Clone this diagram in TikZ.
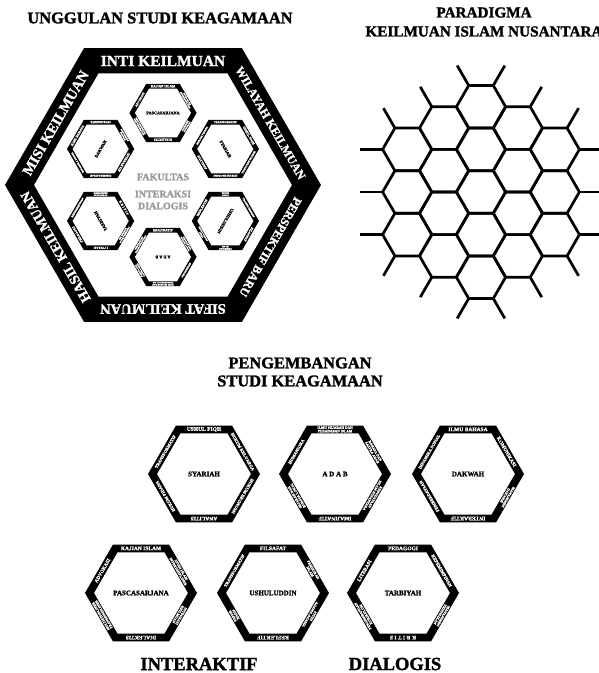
\documentclass[tikz,border=0pt]{standalone}
\usepackage{fontspec}
\setmainfont{Liberation Serif}[BoldFeatures={FakeBold=1.6}]

\tikzset{
  band/.style={fill=black, even odd rule},
  bandtext/.style={text=white, inner sep=0pt, align=center},
  facname/.style={font=\bfseries\fontsize{7}{7}\selectfont, inner sep=0pt},
  rimtext/.style={text=white, inner sep=0pt, font=\bfseries\fontsize{#1}{#1}\selectfont},
  headline/.style={inner sep=0pt, align=center},
  emboss/.style={text=black!40, inner sep=0pt, align=center, font=\bfseries\fontsize{10}{12}\selectfont},
  comb/.style={line width=2.7pt, line join=round},
}

% words on the band of each faculty, clockwise from the top edge
\newcommand\syariahwords{5.5/USHUL FIQH, 4.3/HUKUM KELUARGA, 4.3/HUKUM EKONOMI, 5.5/ANALITIS, 4.3/HUKUM PIDANA, 4.3/TRANSFORMATIF}
\newcommand\adabwords{3.5/ILMU SEJARAH DAN\\PERADABAN ISLAM, 3.5/BAHASA DAN\\SASTRA ARAB, 3.5/KEBUDAYAAN\\ISLAM NUSANTARA, 5.5/IMAJINATIF, 3.5/SEJARAH DAN\\BUDAYA LOKAL, 4.3/HUMANIORA}
\newcommand\dakwahwords{5.5/ILMU BAHASA, 5/KOMUNIKASI, 3.5/MANAJEMEN\\DAKWAH, 5.5/INTERAKTIF, 4.2/PEMBERDAYAAN, 4.2/DINAMIKA SOSIAL}
\newcommand\pascawords{5.5/KAJIAN ISLAM, 3.5/STUDI ISLAM\\INTERDISIPLINER, 3.5/INTEGRASI\\KEILMUAN, 5.5/DIALEKTIS, 3.5/MULTIDISIPLINER\\TRANSDISIPLINER, 5/ADVOKASI}
\newcommand\ushulwords{5.5/FILSAFAT, 3.5/PEMIKIRAN\\ISLAM, 3.5/STUDI\\AGAMA-AGAMA, 5.5/REFLEKTIF, 3.5/TAFSIR\\HADIS, 4.2/TRANSFORMATIF}
\newcommand\tarbiyahwords{5.5/PEDAGOGI, 4.5/KEPEMIMPINAN, 3.5/MANAJEMEN\\PENDIDIKAN, 5.5/K R I T I S, 3.5/PENGEMBANGAN\\KURIKULUM, 5/LITERASI}

% one faculty hexagon: #1 name, #2 label, #3 band words
\newcommand\faculty[3]{%
  \fill[band] (0:56) -- (60:56) -- (120:56) -- (180:56) -- (240:56) -- (300:56) -- cycle
    (0:47) -- (60:47) -- (120:47) -- (180:47) -- (240:47) -- (300:47) -- cycle;
  \node[facname] (#1) at (0,0) {#2};
  \foreach \sz/\lbl [count=\k from 0] in #3
    \node[bandtext, font=\bfseries\fontsize{\sz}{\sz}\selectfont, rotate=-60*\k] (#1-\k) at ({90-60*\k}:44.6) {\lbl};
}

\begin{document}
\begin{tikzpicture}[x=1pt, y=1pt]
\useasboundingbox (0,0) rectangle (599,673);

% headings
\node[headline, font=\bfseries\fontsize{16.4}{18}\selectfont] (unggulan) at (160,655) {UNGGULAN STUDI KEAGAMAAN};
\node[headline, font=\bfseries\fontsize{15.2}{19}\selectfont] (paradigma) at (484,651) {PARADIGMA\\KEILMUAN ISLAM NUSANTARA};
\node[headline, font=\bfseries\fontsize{16.4}{18}\selectfont] (pengembangan) at (300,301) {PENGEMBANGAN\\STUDI KEAGAMAAN};
\node[headline, font=\bfseries\fontsize{18.5}{20}\selectfont] (interaktif) at (199,9) {INTERAKTIF};
\node[headline, font=\bfseries\fontsize{18.5}{20}\selectfont] (dialogis) at (395,9) {DIALOGIS};

% big hexagon with the six faculties inside
\begin{scope}[shift={(163,488)}]
  \fill[band] (0:158) -- (60:158) -- (120:158) -- (180:158) -- (240:158) -- (300:158) -- cycle
    (0:129) -- (60:129) -- (120:129) -- (180:129) -- (240:129) -- (300:129) -- cycle;
  \foreach \txt/\sz [count=\k from 0] in {INTI KEILMUAN/15.5, WILAYAH KEILMUAN/12, PERSPEKTIF BARU/12, SIFAT KEILMUAN/14.5, HASIL KEILMUAN/14, MISI KEILMUAN/14.5}
    \node[rimtext=\sz, rotate=-60*\k] (rim-\k) at ({90-60*\k}:124) {\txt};
  \node[emboss] (fakultas) at (0,8) {FAKULTAS};
  \node[emboss] (interaksi) at (0,-15) {INTERAKSI\\DIALOGIS};
  \begin{scope}[shift={(90:72)}, scale=0.6, transform shape]
    \faculty{in-pasca}{PASCASARJANA}{\pascawords}
  \end{scope}
  \begin{scope}[shift={(30:72)}, rotate=-60, scale=0.6, transform shape]
    \faculty{in-syariah}{SYARIAH}{\syariahwords}
  \end{scope}
  \begin{scope}[shift={(-30:72)}, rotate=-120, scale=0.6, transform shape]
    \faculty{in-ushul}{USHULUDDIN}{\ushulwords}
  \end{scope}
  \begin{scope}[shift={(-90:72)}, rotate=180, scale=0.6, transform shape]
    \faculty{in-adab}{A D A B}{\adabwords}
  \end{scope}
  \begin{scope}[shift={(-150:72)}, rotate=120, scale=0.6, transform shape]
    \faculty{in-tarbiyah}{TARBIYAH}{\tarbiyahwords}
  \end{scope}
  \begin{scope}[shift={(150:72)}, rotate=60, scale=0.6, transform shape]
    \faculty{in-dakwah}{DAKWAH}{\dakwahwords}
  \end{scope}
\end{scope}

% honeycomb
\begin{scope}[shift={(481,481)}]
  \def\cellr{24.6}
  \foreach \i in {-2,...,2} {
    \pgfmathtruncatemacro\n{4-abs(\i)}
    \foreach \j in {0,...,\n}
      \draw[comb, shift={({1.5*\cellr*\i},{sqrt(3)*\cellr*(\j-\n/2)})}]
        (0:\cellr) -- (60:\cellr) -- (120:\cellr) -- (180:\cellr) -- (240:\cellr) -- (300:\cellr) -- cycle;
  }
  % loose ends round the rim
  \foreach \k in {0,...,5} {
    \draw[comb] ({30+60*\k}:{2*sqrt(3)*\cellr}) ++({60*\k}:\cellr) -- ++({60*\k}:23);
    \draw[comb] ({30+60*\k}:{2*sqrt(3)*\cellr}) ++({60*\k+60}:\cellr) -- ++({60*\k+60}:23);
    \draw[comb] ({60*\k}:{3*\cellr}) ++({60*\k}:\cellr) -- ++({60*\k}:23);
  }
\end{scope}

% faculties, first row
\begin{scope}[shift={(204,199)}]
  \faculty{syariah}{SYARIAH}{\syariahwords}
\end{scope}
\begin{scope}[shift={(335,199)}]
  \faculty{adab}{A D A B}{\adabwords}
\end{scope}
\begin{scope}[shift={(468,199)}]
  \faculty{dakwah}{DAKWAH}{\dakwahwords}
\end{scope}

% faculties, second row
\begin{scope}[shift={(141,80)}]
  \faculty{pasca}{PASCASARJANA}{\pascawords}
\end{scope}
\begin{scope}[shift={(273,80)}]
  \faculty{ushul}{USHULUDDIN}{\ushulwords}
\end{scope}
\begin{scope}[shift={(403,80)}]
  \faculty{tarbiyah}{TARBIYAH}{\tarbiyahwords}
\end{scope}

\end{tikzpicture}
\end{document}
